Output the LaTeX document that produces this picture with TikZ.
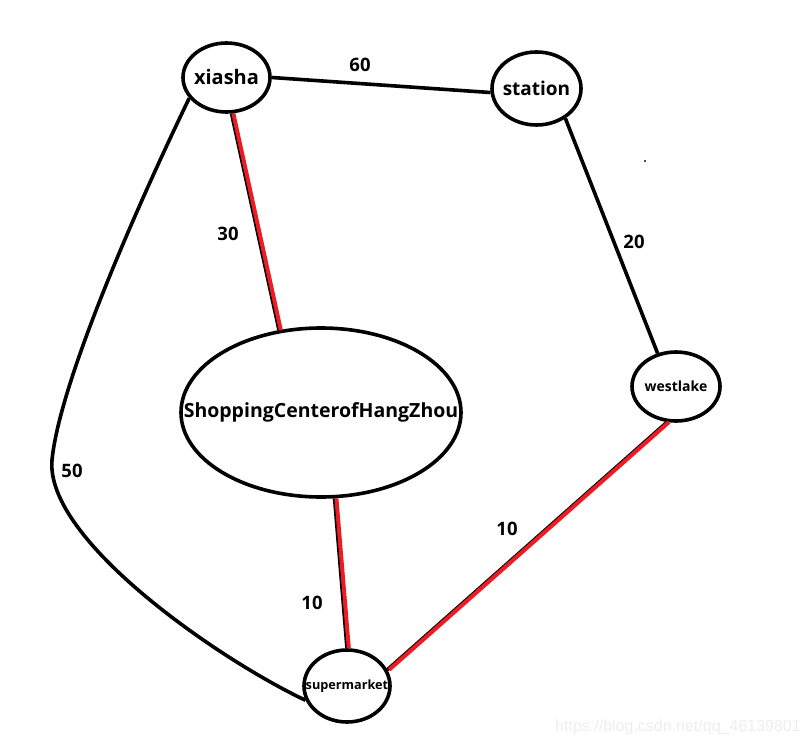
\documentclass[tikz,border=0pt]{standalone}
\usepackage{fontspec}
\setmainfont{Open Sans}
\newfontfamily\wmfont{Liberation Sans}
\usetikzlibrary{shapes.geometric}
\definecolor{pred}{RGB}{237,28,36}
\definecolor{wm}{RGB}{238,238,238}
\tikzset{
  vtx/.style={draw=black, line width=3.6pt, ellipse, inner sep=0pt, font=\bfseries},
  edge/.style={draw=black, line width=3.6pt},
  blk/.style={draw=black, line width=3.6pt},
  rdl/.style={draw=pred, line width=4pt, transform canvas={xshift=1.8pt}},
  lbl/.style={font=\fontsize{18.5}{18.5}\selectfont\bfseries, inner sep=0pt}
}
\begin{document}
\begin{tikzpicture}[x=1pt,y=-1pt]
\useasboundingbox[fill=white] (0,0) rectangle (810,749);
% nodes
\node[vtx, minimum width=87pt, minimum height=69pt, font=\fontsize{20}{20}\selectfont\bfseries] (xs) at (226.5,77.5) {\makebox[0pt]{xiasha}};
\node[vtx, minimum width=89pt, minimum height=73pt, font=\fontsize{19}{19}\selectfont\bfseries] (st) at (536.5,88.5) {\makebox[0pt]{station}};
\node[vtx, minimum width=280pt, minimum height=169pt, font=\fontsize{19.5}{19.5}\selectfont\bfseries] (sc) at (321,412.5) {\makebox[0pt]{ShoppingCenterofHangZhou}};
\node[vtx, minimum width=88pt, minimum height=69pt, font=\fontsize{14}{14}\selectfont\bfseries] (wl) at (676,386.5) {\makebox[0pt]{westlake}};
\node[vtx, minimum width=86pt, minimum height=72pt, font=\fontsize{12.7}{12.7}\selectfont\bfseries] (sm) at (347,686) {\makebox[0pt]{supermarket}};
% black edges
\draw[edge] (xs.0) -- (st.185);
\draw[edge] (st.-46) -- (wl.119);
\draw[edge] (xs.-151) .. controls (140,200) and (60,380) .. (52,460)
                   .. controls (45,540) and (220,660) .. (sm.199);
% red edges
\draw[blk] (xs.-82.6) -- (sc.117.5);
\draw[rdl] (xs.-82.6) -- (sc.117.5);
\draw[blk] (sc.-81) -- (sm.90);
\draw[rdl] (sc.-81) -- (sm.90);
\draw[blk] (wl.-104) -- (sm.22);
\draw[rdl] (wl.-104) -- (sm.22);
% labels
\node[lbl] (l60) at (360,65) {60};
\node[lbl] (l30) at (228,234) {30};
\node[lbl] (l20) at (634,242) {20};
\node[lbl] (l50) at (72,471) {50};
\node[lbl] (l10a) at (312,603) {10};
\node[lbl] (l10b) at (507,529) {10};
% misc
\fill[black!70] (644,160) rectangle (646,162);
\node[font=\wmfont\fontsize{16}{16}\selectfont, text=wm, inner sep=0pt] (wmk) at (678,727) {https://blog.csdn.net/qq\_46139801};
\end{tikzpicture}
\end{document}
